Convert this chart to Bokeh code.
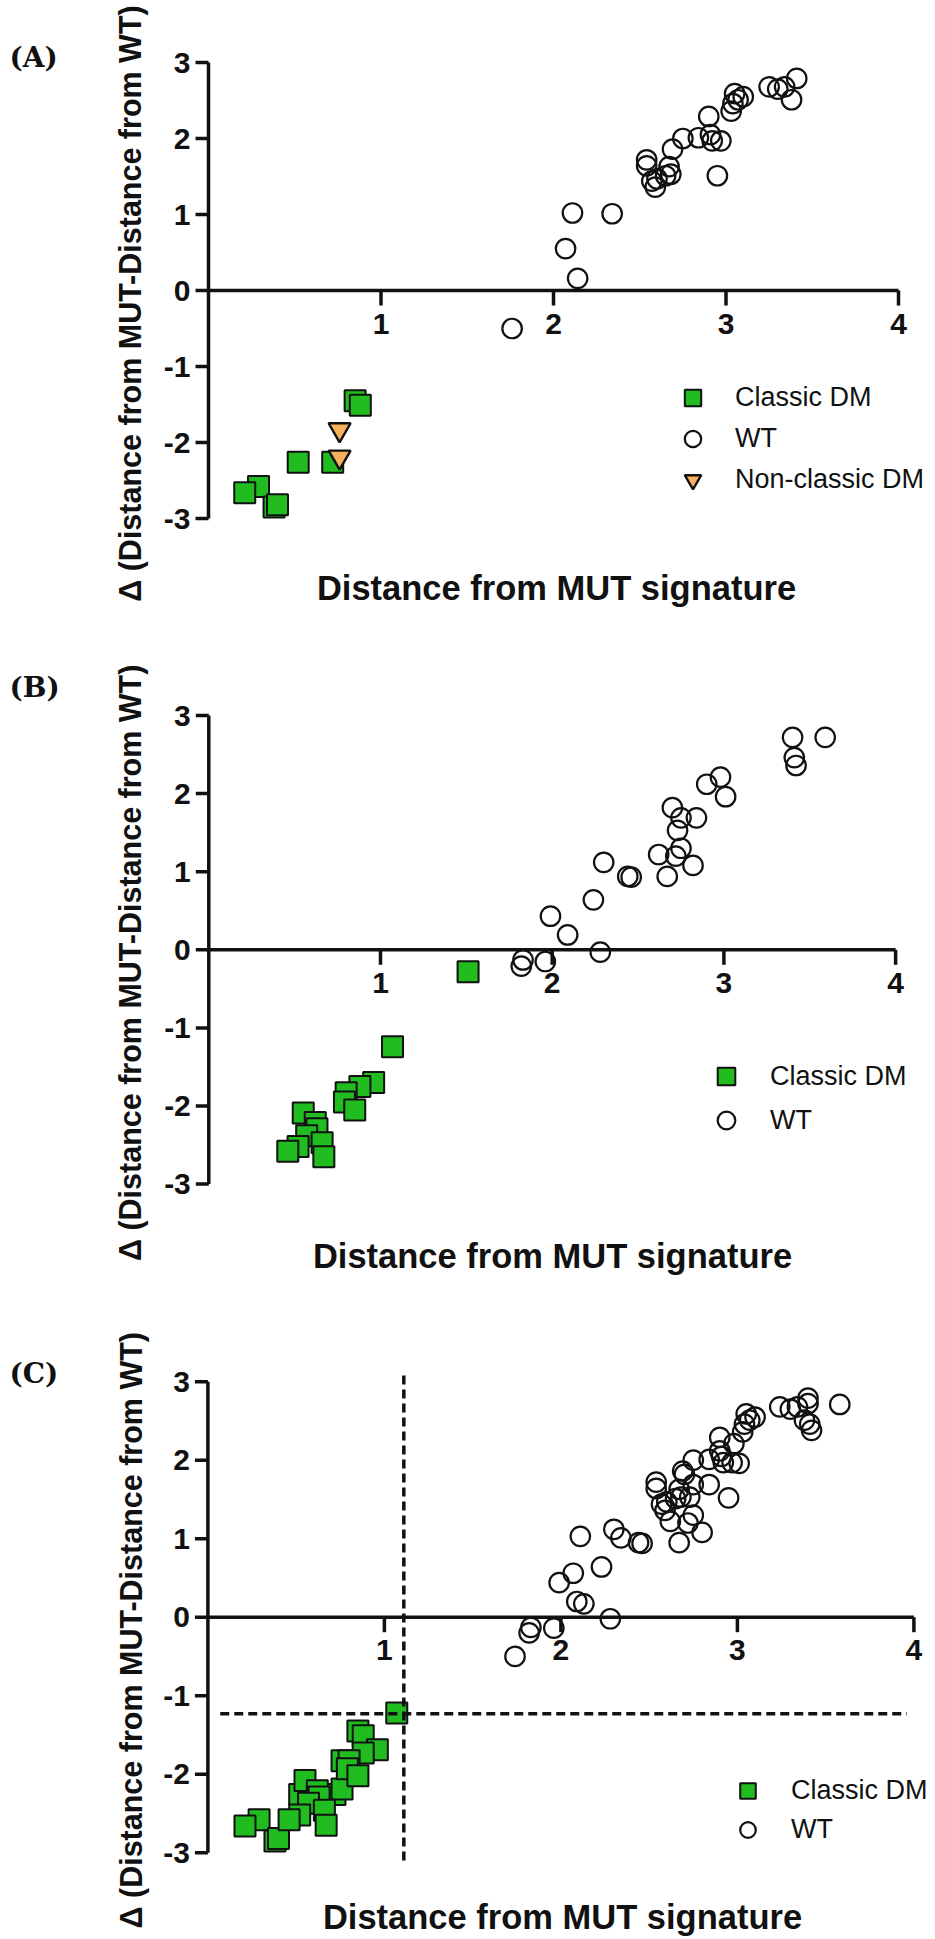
import math
from bokeh.plotting import figure
from bokeh.models import Range1d, Label, Legend, LegendItem
from bokeh.layouts import column
from bokeh.embed import file_html
from bokeh.resources import INLINE
from bokeh.core.properties import value

# ---------------- data ----------------
X_TICKS = [1, 2, 3, 4]
X_TICK_LABELS = ["1", "2", "3", "4"]
Y_TICKS = [-3, -2, -1, 0, 1, 2, 3]
Y_TICK_LABELS = ["-3", "-2", "-1", "0", "1", "2", "3"]
X_AXIS_SPAN = [0, 4]
Y_AXIS_SPAN = [-3, 3]

X_TITLE = "Distance from MUT signature"
Y_TITLE = "\u0394 (Distance from MUT-Distance from WT)"
SERIES_NAMES = ["Classic DM", "WT", "Non-classic DM"]
PANEL_LETTERS = ["(A)", "(B)", "(C)"]

# Panel A
a_wt_x = [1.76, 2.11, 2.07, 2.14, 2.34, 2.54, 2.54, 2.57, 2.59, 2.60, 2.67, 2.68, 2.65, 2.69, 2.75, 2.84,
          2.90, 2.91, 2.92, 2.97, 2.95, 3.03, 3.04, 3.05, 3.07, 3.10, 3.25, 3.30, 3.34, 3.41, 3.38]
a_wt_y = [-0.50, 1.02, 0.55, 0.16, 1.01, 1.72, 1.64, 1.44, 1.36, 1.47, 1.63, 1.53, 1.51, 1.86, 2.00, 2.01,
          2.29, 2.05, 1.97, 1.97, 1.51, 2.36, 2.46, 2.59, 2.51, 2.55, 2.68, 2.65, 2.68, 2.79, 2.51]
a_dm_x = [0.85, 0.88, 0.52, 0.72, 0.29, 0.21, 0.38, 0.40]
a_dm_y = [-1.45, -1.51, -2.26, -2.26, -2.58, -2.66, -2.85, -2.82]
a_nc_x = [0.76, 0.76]
a_nc_y = [-1.83, -2.19]

# Panel B
b_wt_x = [3.40, 3.59, 3.41, 3.42, 2.90, 2.98, 3.01, 2.70, 2.75, 2.84, 2.73, 2.75, 2.72, 2.62, 2.67, 2.82,
          2.30, 2.44, 2.46, 2.24, 1.99, 2.09, 2.28, 1.83, 1.82, 1.96]
b_wt_y = [2.72, 2.72, 2.46, 2.36, 2.12, 2.21, 1.96, 1.82, 1.69, 1.69, 1.53, 1.30, 1.20, 1.22, 0.94, 1.08,
          1.12, 0.94, 0.93, 0.64, 0.43, 0.19, -0.03, -0.13, -0.21, -0.15]
b_dm_x = [1.51, 1.07, 0.96, 0.88, 0.80, 0.79, 0.85, 0.55, 0.62, 0.63, 0.57, 0.66, 0.52, 0.46, 0.67]
b_dm_y = [-0.28, -1.24, -1.70, -1.75, -1.83, -1.95, -2.05, -2.09, -2.21, -2.29, -2.38, -2.47, -2.52, -2.58, -2.65]

# Panel C (combined cohort)
c_wt_x = [1.74, 2.11, 2.07, 2.13, 2.34, 2.54, 2.54, 2.57, 2.59, 2.60, 2.67, 2.68, 2.65, 2.69, 2.75, 2.84,
          2.90, 2.91, 2.92, 2.97, 2.95, 3.03, 3.04, 3.05, 3.07, 3.10, 3.24, 3.30, 3.34, 3.40, 3.38,
          3.40, 3.58, 3.41, 3.42, 2.90, 2.98, 3.01, 2.70, 2.75, 2.84, 2.73, 2.75, 2.72, 2.62, 2.67, 2.80,
          2.30, 2.44, 2.46, 2.23, 1.99, 2.09, 2.28, 1.83, 1.82, 1.96]
c_wt_y = [-0.50, 1.03, 0.56, 0.17, 1.01, 1.72, 1.64, 1.44, 1.36, 1.47, 1.63, 1.53, 1.51, 1.86, 2.00, 2.01,
          2.29, 2.05, 1.97, 1.97, 1.52, 2.36, 2.46, 2.59, 2.51, 2.55, 2.68, 2.65, 2.68, 2.79, 2.51,
          2.72, 2.71, 2.46, 2.38, 2.12, 2.21, 1.96, 1.82, 1.69, 1.69, 1.53, 1.30, 1.20, 1.22, 0.95, 1.08,
          1.12, 0.95, 0.94, 0.64, 0.44, 0.20, -0.02, -0.13, -0.20, -0.14]
c_dm_x = [0.85, 0.88, 0.52, 0.72, 0.29, 0.21, 0.38, 0.40, 0.76, 0.76,
          1.07, 0.96, 0.88, 0.80, 0.79, 0.85, 0.55, 0.62, 0.63, 0.57, 0.66, 0.52, 0.46, 0.67]
c_dm_y = [-1.45, -1.51, -2.26, -2.26, -2.58, -2.66, -2.85, -2.82, -1.83, -2.19,
          -1.22, -1.69, -1.73, -1.83, -1.93, -2.02, -2.08, -2.21, -2.29, -2.37, -2.46, -2.52, -2.58, -2.65]

# Panel C cut-off lines
c_cut_x = 1.11
c_cut_x_span = [-3.10, 3.14]
c_cut_y = -1.23
c_cut_y_span = [0.07, 3.96]

# ---------------- style ----------------
GREEN = "#20BC20"
ORANGE = "#F6B15A"
INK = "#111111"
SANS = "Liberation Sans"
W = 935
AXIS_W = 3.5
TICK_FONT = "30px"


def make_panel(letter, H, X0, UX, Y0, UY, title_c, letter_c, ytitle_x, leg,
               wt, dm, nc=None, cuts=False):
    # pixel layout -> data ranges (frame fills the whole figure)
    p = figure(width=W, height=H,
               x_range=Range1d(-X0 / UX, (W - X0) / UX),
               y_range=Range1d((Y0 - H) / UY, Y0 / UY),
               output_backend="svg", toolbar_location=None,
               x_axis_location=None, y_axis_location=None,
               min_border=0, min_border_left=0, min_border_right=0,
               min_border_top=0, min_border_bottom=0)
    p.xgrid.visible = False
    p.ygrid.visible = False
    p.outline_line_color = None
    p.background_fill_color = "white"
    p.border_fill_color = "white"

    def dx(px):
        return (px - X0) / UX

    def dy(py):
        return (Y0 - py) / UY

    # ---- axes (drawn through the data scales) ----
    p.segment(x0=[0], y0=[Y_AXIS_SPAN[0]], x1=[0], y1=[Y_AXIS_SPAN[1]],
              line_color=INK, line_width=AXIS_W)
    p.segment(x0=[0] * len(Y_TICKS), y0=Y_TICKS, x1=[-13 / UX] * len(Y_TICKS), y1=Y_TICKS,
              line_color=INK, line_width=AXIS_W)
    p.text(x=[0] * len(Y_TICKS), y=Y_TICKS, text=Y_TICK_LABELS, x_offset=-18,
           text_align="right", text_baseline="middle", text_font=value(SANS),
           text_font_size=TICK_FONT, text_font_style="bold", text_color=INK)
    p.segment(x0=[X_AXIS_SPAN[0]], y0=[0], x1=[X_AXIS_SPAN[1]], y1=[0],
              line_color=INK, line_width=AXIS_W)
    p.segment(x0=X_TICKS, y0=[0] * len(X_TICKS), x1=X_TICKS, y1=[-15 / UY] * len(X_TICKS),
              line_color=INK, line_width=AXIS_W)
    p.text(x=X_TICKS, y=[0] * len(X_TICKS), text=X_TICK_LABELS, y_offset=23,
           text_align="center", text_baseline="top", text_font=value(SANS),
           text_font_size=TICK_FONT, text_font_style="bold", text_color=INK)

    # ---- data ----
    r_dm = p.scatter(dm[0], dm[1], marker="square", size=21, fill_color=GREEN,
                     line_color=INK, line_width=2)
    r_wt = p.scatter(wt[0], wt[1], marker="circle", size=19.5, fill_color=None,
                     line_color=INK, line_width=2.2)
    items = [LegendItem(label=SERIES_NAMES[0], renderers=[r_dm]),
             LegendItem(label=SERIES_NAMES[1], renderers=[r_wt])]
    if nc is not None:
        r_nc = p.scatter(nc[0], nc[1], marker="inverted_triangle", size=22, fill_color=ORANGE,
                         line_color=INK, line_width=2.4)
        items.append(LegendItem(label=SERIES_NAMES[2], renderers=[r_nc]))

    if cuts:
        p.segment(x0=[c_cut_x], y0=[c_cut_x_span[0]], x1=[c_cut_x], y1=[c_cut_x_span[1]],
                  line_color=INK, line_width=3.5, line_dash="9 5")
        p.segment(x0=[c_cut_y_span[0]], y0=[c_cut_y], x1=[c_cut_y_span[1]], y1=[c_cut_y],
                  line_color=INK, line_width=3.5, line_dash="9 5")

    # ---- legend ----
    gcx, row1, pitch, text_x = leg
    n = len(items)
    leg_top = row1 - pitch / 2
    leg_bottom = leg_top + n * pitch
    legend = Legend(items=items,
                    location=(int(round(gcx - pitch / 2)), int(round(H - leg_bottom))),
                    glyph_width=pitch, glyph_height=pitch, label_height=pitch,
                    spacing=0, padding=0, margin=0,
                    label_standoff=int(round(text_x - (gcx + pitch / 2))),
                    label_text_font=SANS, label_text_font_size="27px",
                    label_text_color=INK, border_line_color=None,
                    background_fill_alpha=0)
    p.add_layout(legend)

    # ---- titles ----
    p.add_layout(Label(x=dx(title_c[0]), y=dy(title_c[1]), text=X_TITLE,
                       text_align="center", text_baseline="middle", text_font=SANS,
                       text_font_size="34.5px", text_font_style="bold", text_color=INK))
    p.add_layout(Label(x=dx(ytitle_x), y=dy(Y0 + 13), text=Y_TITLE, angle=math.pi / 2,
                       text_align="center", text_baseline="middle", text_font=SANS,
                       text_font_size="30.5px", text_font_style="bold", text_color=INK))
    p.add_layout(Label(x=dx(letter_c[0]), y=dy(letter_c[1]), text=letter,
                       text_align="left", text_baseline="middle", text_font="DejaVu Serif",
                       text_font_size="28px", text_font_style="bold", text_color=INK))
    return p


pA = make_panel(PANEL_LETTERS[0], H=640, X0=208, UX=172.5, Y0=290, UY=76,
                title_c=(556, 587), letter_c=(9, 57), ytitle_x=129, leg=(692, 397, 41, 734),
                wt=(a_wt_x, a_wt_y), dm=(a_dm_x, a_dm_y), nc=(a_nc_x, a_nc_y))
pB = make_panel(PANEL_LETTERS[1], H=660, X0=208.3, UX=171.7, Y0=309.3, UY=78.1,
                title_c=(552, 615), letter_c=(9, 47), ytitle_x=129, leg=(726, 436, 44, 770),
                wt=(b_wt_x, b_wt_y), dm=(b_dm_x, b_dm_y))
pC = make_panel(PANEL_LETTERS[2], H=639, X0=207.4, UX=176.5, Y0=316.7, UY=78.5,
                title_c=(562, 616), letter_c=(9, 73), ytitle_x=130, leg=(747, 491, 39, 790),
                wt=(c_wt_x, c_wt_y), dm=(c_dm_x, c_dm_y), cuts=True)

layout = column(pA, pB, pC, spacing=0)
open("out.html", "w").write(file_html(layout, INLINE))
